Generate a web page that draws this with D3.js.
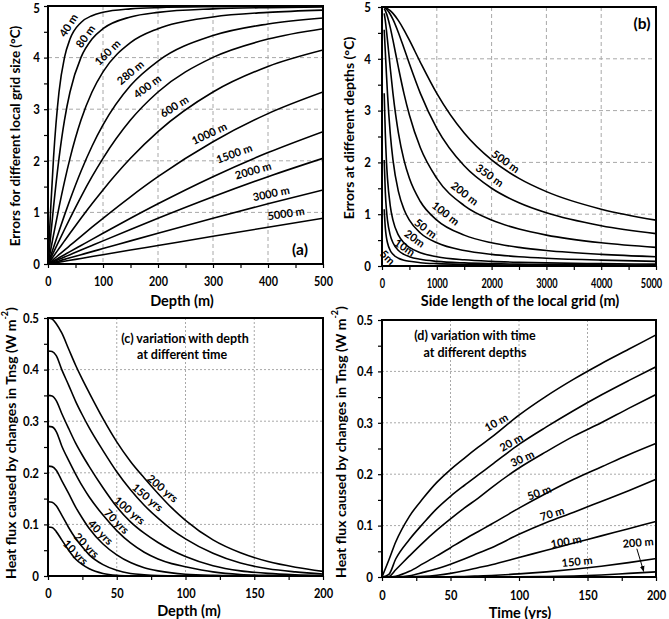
<!DOCTYPE html>
<html><head><meta charset="utf-8">
<script src="https://cdn.jsdelivr.net/npm/d3@7"></script>
<style>
body{margin:0;background:#fff}
text{font-family:Lato,'Open Sans',sans-serif;font-weight:bold;fill:#000}
</style>
</head><body><svg id="chart" width="669" height="619"></svg>
<script>
// ---------- Panel (a): error vs depth for different local grid sizes ----------
const depthA = [0,5,10,20,30,40,60,80,100,150,200,300,400,500];
const gridLabelsA = ["40 m","80 m","160 m","280 m","400 m","600 m","1000 m","1500 m","2000 m","3000 m","5000 m"];
const errA_40   = [0,1.097,2.048,3.333,4.004,4.359,4.681,4.813,4.877,4.944,4.969,4.986,4.992,4.995];
const errA_80   = [0,0.559,1.097,2.048,2.789,3.333,4.004,4.359,4.560,4.788,4.877,4.944,4.969,4.980];
const errA_160  = [0,0.281,0.559,1.097,1.597,2.048,2.789,3.333,3.723,4.289,4.560,4.788,4.877,4.921];
const errA_280  = [0,0.161,0.321,0.637,0.947,1.245,1.798,2.282,2.695,3.458,3.933,4.427,4.652,4.768];
const errA_400  = [0,0.113,0.225,0.448,0.669,0.886,1.303,1.692,2.048,2.789,3.333,4.004,4.359,4.560];
const errA_600  = [0,0.075,0.150,0.299,0.448,0.596,0.886,1.167,1.436,2.048,2.566,3.333,3.828,4.147];
const errA_1000 = [0,0.045,0.090,0.180,0.270,0.359,0.537,0.713,0.886,1.303,1.692,2.370,2.914,3.333];
const errA_1500 = [0,0.030,0.060,0.120,0.180,0.240,0.359,0.478,0.596,0.886,1.167,1.692,2.159,2.566];
const errA_2000 = [0,0.023,0.045,0.090,0.135,0.180,0.270,0.359,0.448,0.669,0.886,1.303,1.692,2.048];
const errA_3000 = [0,0.015,0.030,0.060,0.090,0.120,0.180,0.240,0.299,0.448,0.596,0.886,1.167,1.436];
const errA_5000 = [0,0.009,0.018,0.036,0.054,0.072,0.108,0.144,0.180,0.270,0.359,0.537,0.713,0.886];

// ---------- Panel (b): error vs side length of local grid at different depths ----------
const sideB = [40,60,80,100,150,200,300,400,500,700,1000,1500,2000,2500,3000,4000,5000];
const depthLabelsB = ["5m","10m","20m","50 m","100 m","200 m","350 m","500 m"];
const errB_5   = [1.097,0.742,0.559,0.448,0.299,0.225,0.150,0.113,0.090,0.064,0.045,0.030,0.023,0.018,0.015,0.011,0.009];
const errB_10  = [2.048,1.436,1.097,0.886,0.596,0.448,0.299,0.225,0.180,0.129,0.090,0.060,0.045,0.036,0.030,0.023,0.018];
const errB_20  = [3.333,2.566,2.048,1.692,1.167,0.886,0.596,0.448,0.359,0.257,0.180,0.120,0.090,0.072,0.060,0.045,0.036];
const errB_50  = [4.560,4.147,3.723,3.333,2.566,2.048,1.436,1.097,0.886,0.637,0.448,0.299,0.225,0.180,0.150,0.113,0.090];
const errB_100 = [4.877,4.737,4.560,4.359,3.828,3.333,2.566,2.048,1.692,1.245,0.886,0.596,0.448,0.359,0.299,0.225,0.180];
const errB_200 = [4.969,4.930,4.877,4.813,4.607,4.359,3.828,3.333,2.914,2.282,1.692,1.167,0.886,0.713,0.596,0.448,0.359];
const errB_350 = [4.990,4.977,4.959,4.936,4.860,4.760,4.504,4.208,3.904,3.333,2.659,1.934,1.501,1.221,1.027,0.778,0.625];
const errB_500 = [4.995,4.990,4.980,4.969,4.930,4.877,4.737,4.560,4.359,3.933,3.333,2.566,2.048,1.692,1.436,1.097,0.886];

// ---------- Panel (c): heat flux vs depth at different time ----------
const depthC = [0,3,6,10,15,20,25,30,40,50,60,70,80,90,100,120,140,160,180,200];
const timeLabelsC = ["10 yrs","20 yrs","40 yrs","70 yrs","100 yrs","150 yrs","200 yrs"];
const fluxC_10  = [0.095,0.094,0.086,0.070,0.050,0.033,0.022,0.014,0.005,0.0015,0.0005,0.0002,0,0,0,0,0,0,0,0];
const fluxC_20  = [0.144,0.143,0.136,0.118,0.094,0.073,0.056,0.041,0.022,0.011,0.005,0.0025,0.001,0.0005,0.0002,0,0,0,0,0];
const fluxC_40  = [0.213,0.212,0.205,0.185,0.160,0.134,0.112,0.092,0.062,0.041,0.026,0.016,0.010,0.006,0.0035,0.0012,0.0004,0.0001,0,0];
const fluxC_70  = [0.290,0.289,0.280,0.252,0.224,0.198,0.174,0.153,0.118,0.088,0.064,0.046,0.033,0.024,0.018,0.008,0.003,0.0012,0.0005,0.0002];
const fluxC_100 = [0.350,0.349,0.340,0.315,0.286,0.258,0.234,0.212,0.171,0.134,0.105,0.083,0.065,0.050,0.038,0.020,0.010,0.005,0.0025,0.0012];
const fluxC_150 = [0.436,0.435,0.427,0.400,0.370,0.339,0.312,0.287,0.243,0.202,0.167,0.137,0.112,0.090,0.072,0.044,0.025,0.014,0.008,0.004];
const fluxC_200 = [0.500,0.498,0.489,0.471,0.440,0.409,0.381,0.355,0.305,0.260,0.222,0.190,0.160,0.132,0.108,0.070,0.045,0.028,0.017,0.009];

// ---------- Panel (d): heat flux vs time at different depths ----------
const timeD = [0,5,10,20,30,40,50,60,70,80,100,120,140,160,180,200];
const depthLabelsD = ["10 m","20 m","30 m","50 m","70 m","100 m","150 m","200 m"];
const fluxD_10  = [0,0.033,0.068,0.118,0.153,0.184,0.209,0.231,0.252,0.272,0.315,0.352,0.385,0.415,0.443,0.471];
const fluxD_20  = [0,0.005,0.035,0.073,0.104,0.133,0.157,0.178,0.198,0.218,0.258,0.292,0.324,0.354,0.382,0.409];
const fluxD_30  = [0,0.001,0.014,0.041,0.067,0.091,0.113,0.134,0.153,0.174,0.212,0.244,0.274,0.300,0.328,0.355];
const fluxD_50  = [0,0,0.0015,0.011,0.026,0.041,0.057,0.073,0.088,0.103,0.134,0.163,0.190,0.214,0.238,0.260];
const fluxD_70  = [0,0,0.0002,0.0025,0.009,0.016,0.025,0.035,0.046,0.057,0.083,0.106,0.126,0.147,0.168,0.190];
const fluxD_100 = [0,0,0,0.0002,0.0012,0.0035,0.007,0.012,0.018,0.024,0.038,0.052,0.066,0.080,0.094,0.108];
const fluxD_150 = [0,0,0,0,0,0.0001,0.0005,0.001,0.002,0.003,0.006,0.010,0.015,0.021,0.028,0.036];
const fluxD_200 = [0,0,0,0,0,0,0,0,0.0001,0.0002,0.0005,0.001,0.002,0.004,0.007,0.010];

const svg = d3.select("#chart");

function panel(o){
  const g = svg.append("g");
  const x = d3.scaleLinear().domain(o.xd).range([o.x0,o.x1]);
  const y = d3.scaleLinear().domain(o.yd).range([o.y1,o.y0]);
  const id = "clip"+o.id;
  svg.append("clipPath").attr("id",id).append("rect")
    .attr("x",o.x0).attr("y",o.y0).attr("width",o.x1-o.x0).attr("height",o.y1-o.y0);
  // grid
  const gx = o.xMajor.filter(v=>v>o.xd[0]&&v<o.xd[1]);
  const gy = o.yMajor.filter(v=>v>o.yd[0]&&v<o.yd[1]);
  g.selectAll(null).data(gx).join("line")
    .attr("x1",d=>x(d)).attr("x2",d=>x(d)).attr("y1",o.y0).attr("y2",o.y1)
    .attr("stroke","#a8a8a8").attr("stroke-width",1).attr("stroke-dasharray",o.dash);
  g.selectAll(null).data(gy).join("line")
    .attr("y1",d=>y(d)).attr("y2",d=>y(d)).attr("x1",o.x0).attr("x2",o.x1)
    .attr("stroke","#a8a8a8").attr("stroke-width",1).attr("stroke-dasharray",o.dash);
  // minor ticks
  const ax = g.append("g").attr("transform",`translate(0,${o.y1})`)
    .call(d3.axisBottom(x).tickValues(o.xMinor).tickSize(4).tickFormat(""));
  const ay = g.append("g").attr("transform",`translate(${o.x0},0)`)
    .call(d3.axisLeft(y).tickValues(o.yMinor).tickSize(4).tickFormat(""));
  [ax,ay].forEach(a=>{a.select(".domain").remove();a.selectAll("line").attr("stroke","#000").attr("stroke-width",1.2);});
  // major tick labels (narrow, bold)
  const lx = g.append("g").attr("transform",`translate(0,${o.y1})`)
    .call(d3.axisBottom(x).tickValues(o.xMajor).tickSize(0).tickPadding(o.xPad).tickFormat(o.xf));
  const ly = g.append("g").attr("transform",`translate(${o.x0},0)`)
    .call(d3.axisLeft(y).tickValues(o.yMajor).tickSize(0).tickPadding(o.yPad).tickFormat(o.yf));
  [lx,ly].forEach(a=>{a.select(".domain").remove();
    a.selectAll("text").attr("font-size",13.5).attr("font-family","Lato").attr("font-weight","bold");});
  lx.selectAll("text").attr("transform",`scale(${o.sx},1)`);
  if (o.lastShift) lx.selectAll(".tick").filter((d,i,n)=>i===n.length-1).select("text").attr("x",o.lastShift/o.sx);
  ly.selectAll("text").attr("transform",`scale(${o.sy},1)`).attr("x",-o.yPad/o.sy);
  if (o.topNudge) ly.selectAll(".tick").filter((d,i,n)=>i===n.length-1).select("text").attr("dy",`${0.32}em`).attr("y",o.topNudge);
  // curves
  const line = d3.line().x(d=>x(d[0])).y(d=>y(d[1])).curve(d3.curveMonotoneX);
  const cg = g.append("g").attr("clip-path",`url(#${id})`);
  o.series.forEach(s=>{
    cg.append("path").datum(o.xs.map((v,i)=>[v,s[i]])).attr("d",line)
      .attr("fill","none").attr("stroke","#000").attr("stroke-width",1.6);
  });
  // border
  g.append("rect").attr("x",o.x0).attr("y",o.y0).attr("width",o.x1-o.x0).attr("height",o.y1-o.y0)
    .attr("fill","none").attr("stroke","#000").attr("stroke-width",2);
  // curve labels
  o.labels.forEach((t,i)=>{
    const p = o.labelPos[i];
    g.append("text").attr("transform",`translate(${p[0]},${p[1]}) rotate(${p[2]})`)
      .attr("text-anchor","middle").attr("dominant-baseline","central").attr("font-size",11).text(t);
  });
  // axis titles
  g.append("text").attr("x",o.xt[0]).attr("y",o.xt[1]).attr("text-anchor","middle")
    .attr("dominant-baseline","central").attr("font-size",14.5).text(o.xTitle);
  const yt = g.append("text").attr("transform",`translate(${o.yt[0]},${o.yt[1]}) rotate(-90)`)
    .attr("text-anchor","middle").attr("dominant-baseline","central").attr("font-size",o.ytSize);
  o.yTitle(yt);
  return {g,x,y};
}

const intF = d3.format("d");
const decF = d=> d===0 ? "0" : d3.format(".1f")(d);

// (a)
const pa = panel({id:"a", x0:48,x1:323,y0:6,y1:264, xd:[0,500], yd:[0,5],
  xMajor:d3.range(0,501,100), xMinor:d3.range(0,501,50), yMajor:d3.range(0,6,1), yMinor:d3.range(0,5.01,0.5),
  dash:"4,3", xf:intF, yf:intF, xPad:12, yPad:8, sx:0.8, sy:0.85, topNudge:2,
  xs:depthA, series:[errA_40,errA_80,errA_160,errA_280,errA_400,errA_600,errA_1000,errA_1500,errA_2000,errA_3000,errA_5000],
  labels:gridLabelsA,
  labelPos:[[68,25,-58],[85,36,-55],[107,52,-45],[130,72,-40],[147,86,-37],[174,106,-32],[209,133,-25],[234,153,-20],[253,170,-16],[271,193,-12],[286,213,-9]],
  xTitle:"Depth (m)", xt:[182,300], yt:[15,136], ytSize:13.5,
  yTitle:t=>t.text("Errors for different local grid size (°C)")
});
pa.g.append("text").attr("x",300).attr("y",249).attr("text-anchor","middle").attr("dominant-baseline","central").attr("font-size",15.5).text("(a)");

// (b)
const pb = panel({id:"b", x0:382,x1:656,y0:7,y1:266, xd:[0,5000], yd:[0,5],
  xMajor:d3.range(0,5001,1000), xMinor:d3.range(0,5001,500), yMajor:d3.range(0,6,1), yMinor:d3.range(0,5.01,0.5),
  dash:"4,3", xf:intF, yf:intF, xPad:12, yPad:11, sx:0.68, sy:0.85, lastShift:-5,
  xs:sideB, series:[errB_5,errB_10,errB_20,errB_50,errB_100,errB_200,errB_350,errB_500],
  labels:depthLabelsB,
  labelPos:[[388,257,45],[405,247,33],[415,238,35],[426,228,37],[446,213,38],[465,193,37],[490,175,35],[506,161,35]],
  xTitle:"Side length of the local grid (m)", xt:[520,300], yt:[348,128], ytSize:14,
  yTitle:t=>t.text("Errors at different depths (°C)")
});
pb.g.append("text").attr("x",642).attr("y",23).attr("text-anchor","middle").attr("dominant-baseline","central").attr("font-size",15.5).text("(b)");

function fluxTitle(t){
  t.append("tspan").text("Heat flux caused by changes in Tnsg (W m");
  t.append("tspan").attr("baseline-shift","super").attr("font-size",9).text("-2");
  t.append("tspan").text(")");
}

// (c)
const pc = panel({id:"c", x0:48,x1:323,y0:318,y1:576, xd:[0,200], yd:[0,0.5],
  xMajor:d3.range(0,201,50), xMinor:d3.range(0,201,25), yMajor:[0,0.1,0.2,0.3,0.4,0.5], yMinor:d3.range(0,0.501,0.05),
  dash:"2,2", xf:intF, yf:decF, xPad:12, yPad:9, sx:0.82, sy:0.85,
  xs:depthC, series:[fluxC_10,fluxC_20,fluxC_40,fluxC_70,fluxC_100,fluxC_150,fluxC_200],
  labels:timeLabelsC,
  labelPos:[[76,552,45],[87,545,45],[101,532,45],[117,521,45],[130,510,40],[148,497,40],[163,488,40]],
  xTitle:"Depth (m)", xt:[189,610], yt:[10,443], ytSize:14,
  yTitle:fluxTitle
});
pc.g.append("text").attr("x",185).attr("y",338).attr("text-anchor","middle").attr("dominant-baseline","central").attr("font-size",12.5).text("(c) variation with depth");
pc.g.append("text").attr("x",182).attr("y",354).attr("text-anchor","middle").attr("dominant-baseline","central").attr("font-size",12.5).text("at different time");

// (d)
const pd = panel({id:"d", x0:382,x1:656,y0:320,y1:577, xd:[0,200], yd:[0,0.5],
  xMajor:d3.range(0,201,50), xMinor:d3.range(0,201,25), yMajor:[0,0.1,0.2,0.3,0.4,0.5], yMinor:d3.range(0,0.501,0.05),
  dash:"2,2", xf:intF, yf:decF, xPad:13, yPad:9, sx:0.82, sy:0.85,
  xs:timeD, series:[fluxD_10,fluxD_20,fluxD_30,fluxD_50,fluxD_70,fluxD_100,fluxD_150,fluxD_200],
  labels:depthLabelsD,
  labelPos:[[496,422,-30],[511,442,-30],[522,458,-25],[539,492,-20],[552,513,-17],[566,541,-10],[577,561,-6],[638,542,-5]],
  xTitle:"Time (yrs)", xt:[520,612], yt:[340,442], ytSize:14,
  yTitle:fluxTitle
});
pd.g.append("text").attr("x",475).attr("y",335).attr("text-anchor","middle").attr("dominant-baseline","central").attr("font-size",12.5).text("(d) variation with time");
pd.g.append("text").attr("x",475).attr("y",352).attr("text-anchor","middle").attr("dominant-baseline","central").attr("font-size",12.5).text("at different depths");
// arrow pointing to the 200 m curve
svg.append("defs").append("marker").attr("id","arr").attr("viewBox","0 0 10 10").attr("refX",9).attr("refY",5)
  .attr("markerWidth",6).attr("markerHeight",6).attr("orient","auto")
  .append("path").attr("d","M0,1 L10,5 L0,9 Z").attr("fill","#000");
svg.append("line").attr("x1",pd.x(186)).attr("y1",pd.y(0.055)).attr("x2",pd.x(191)).attr("y2",pd.y(0.011))
  .attr("stroke","#000").attr("stroke-width",1).attr("marker-end","url(#arr)");
</script></body></html>
